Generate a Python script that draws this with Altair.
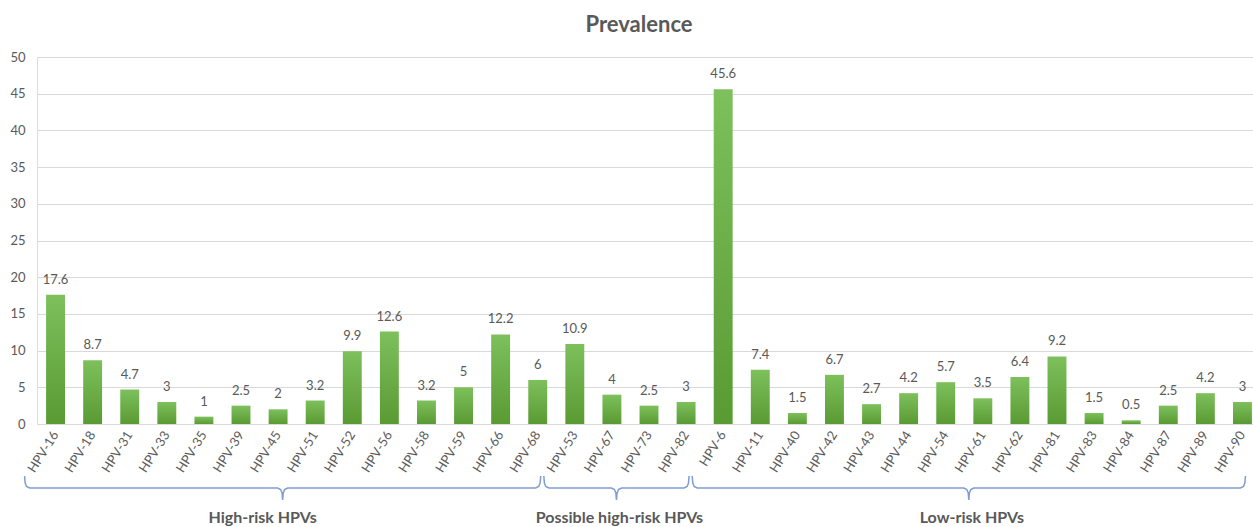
import altair as alt
import pandas as pd

# HPV genotypes in display order and their prevalence (%)
genotypes = [
    "HPV-16", "HPV-18", "HPV-31", "HPV-33", "HPV-35", "HPV-39", "HPV-45",
    "HPV-51", "HPV-52", "HPV-56", "HPV-58", "HPV-59", "HPV-66", "HPV-68",
    "HPV-53", "HPV-67", "HPV-73", "HPV-82",
    "HPV-6", "HPV-11", "HPV-40", "HPV-42", "HPV-43", "HPV-44", "HPV-54",
    "HPV-61", "HPV-62", "HPV-81", "HPV-83", "HPV-84", "HPV-87", "HPV-89", "HPV-90",
]
prevalence = [
    17.6, 8.7, 4.7, 3, 1, 2.5, 2, 3.2, 9.9, 12.6, 3.2, 5, 12.2, 6,
    10.9, 4, 2.5, 3,
    45.6, 7.4, 1.5, 6.7, 2.7, 4.2, 5.7, 3.5, 6.4, 9.2, 1.5, 0.5, 2.5, 4.2, 3,
]

# Risk groups: label, first and last genotype covered by each brace
group_names = ["High-risk HPVs", "Possible high-risk HPVs", "Low-risk HPVs"]
group_first = ["HPV-16", "HPV-53", "HPV-6"]
group_last = ["HPV-68", "HPV-82", "HPV-90"]

y_ticks = [0, 5, 10, 15, 20, 25, 30, 35, 40, 45, 50]

# layout
TEXT = "#595959"
GRID = "#d9d9d9"
BRACE = "#7f9dd3"
FONT = "Lato"
PLOT_W = 1216          # visible plot width
RANGE_W = 1224         # band range (runs slightly past the right edge)
PLOT_H = 367
N = len(genotypes)
STEP = RANGE_W / N

df = pd.DataFrame({"genotype": genotypes, "prevalence": prevalence})

x_scale = alt.Scale(domain=genotypes, range=[0, RANGE_W],
                    paddingInner=0.49, paddingOuter=0.245)
y_scale = alt.Scale(domain=[0, 50], nice=False)

green = alt.Gradient(
    gradient="linear",
    stops=[alt.GradientStop(color="#7dc05c", offset=0),
           alt.GradientStop(color="#5a9a33", offset=1)],
    x1=0, x2=0, y1=0, y2=1,
)

bars = alt.Chart(df).mark_bar(color=green).encode(
    x=alt.X("genotype:N", scale=x_scale, sort=genotypes, title=None,
            axis=alt.Axis(labelAngle=-58, labelAlign="right", labelBaseline="middle",
                          labelPadding=8, ticks=False, domain=False, grid=False,
                          labelFont=FONT, labelFontSize=13, labelColor=TEXT)),
    y=alt.Y("prevalence:Q", title=None, scale=y_scale,
            axis=alt.Axis(values=y_ticks, ticks=False, domain=False,
                          gridColor=GRID, gridWidth=1, labelPadding=12,
                          labelFont=FONT, labelFontSize=13, labelColor=TEXT)),
)

labels = alt.Chart(df).mark_text(baseline="bottom", dy=-8, font=FONT, fontSize=13,
                                 color=TEXT).encode(
    x=alt.X("genotype:N", scale=x_scale, sort=genotypes, axis=None),
    y=alt.Y("prevalence:Q", scale=y_scale, axis=None),
    text=alt.Text("prevalence:Q"),
)

# brace outlines under the axis labels, in band-index units
idx = {g: i for i, g in enumerate(genotypes)}
px = 1.0 / STEP
rows = []
for name, first, last in zip(group_names, group_first, group_last):
    left = idx[first] - 31 * px
    right = idx[last] + 3 * px
    mid = (left + right) / 2
    shape = [
        (left, 419), (left + 0.6 * px, 426), (left + 2 * px, 429.5), (left + 5 * px, 431),
        (mid - 5 * px, 431), (mid - 2 * px, 432.5), (mid - 0.6 * px, 436), (mid, 443),
        (mid + 0.6 * px, 436), (mid + 2 * px, 432.5), (mid + 5 * px, 431),
        (right - 5 * px, 431), (right - 2 * px, 429.5), (right - 0.6 * px, 426), (right, 419),
    ]
    for k, (u, v) in enumerate(shape):
        rows.append({"group": name, "k": k, "u": u, "v": v})
brace_df = pd.DataFrame(rows)

u_scale = alt.Scale(domain=[-0.5, N - 0.5], range=[0, RANGE_W], nice=False, zero=False)

braces = alt.Chart(brace_df).mark_line(color=BRACE, strokeWidth=1.5).encode(
    x=alt.X("u:Q", scale=u_scale, axis=None),
    y=alt.Y("v:Q", scale=None, axis=None),
    detail="group:N",
    order="k:Q",
)

label_rows = []
for name, first, last in zip(group_names, group_first, group_last):
    left = idx[first] - 31 * px
    right = idx[last] + 3 * px
    label_rows.append({"group": name, "u": (left + right) / 2})
label_df = pd.DataFrame(label_rows)

group_text = []
for i, name in enumerate(group_names):
    shift = -20 if i == 0 else 3
    group_text.append(
        alt.Chart(label_df[label_df["group"] == name]).mark_text(
            font=FONT, fontSize=16, fontWeight="bold", color=TEXT,
            baseline="middle", align="center", dx=shift,
        ).encode(
            x=alt.X("u:Q", scale=u_scale, axis=None),
            y=alt.value(461),
            text="group:N",
        )
    )

chart = alt.layer(bars, labels, braces, *group_text).resolve_scale(
    x="independent", y="independent"
).resolve_axis(
    x="independent", y="independent"
).properties(
    width=PLOT_W,
    height=PLOT_H,
    title=alt.TitleParams(text="Prevalence", font=FONT, fontSize=22,
                          fontWeight="bold", color=TEXT, anchor="middle",
                          offset=14, dx=-6),
    autosize=alt.AutoSizeParams(type="none"),
    padding={"left": 37, "top": 57, "right": 0, "bottom": 103},
).configure_view(stroke=None).configure(background="white")

chart.save("out.html", embed_options={"renderer": "svg", "actions": False})
